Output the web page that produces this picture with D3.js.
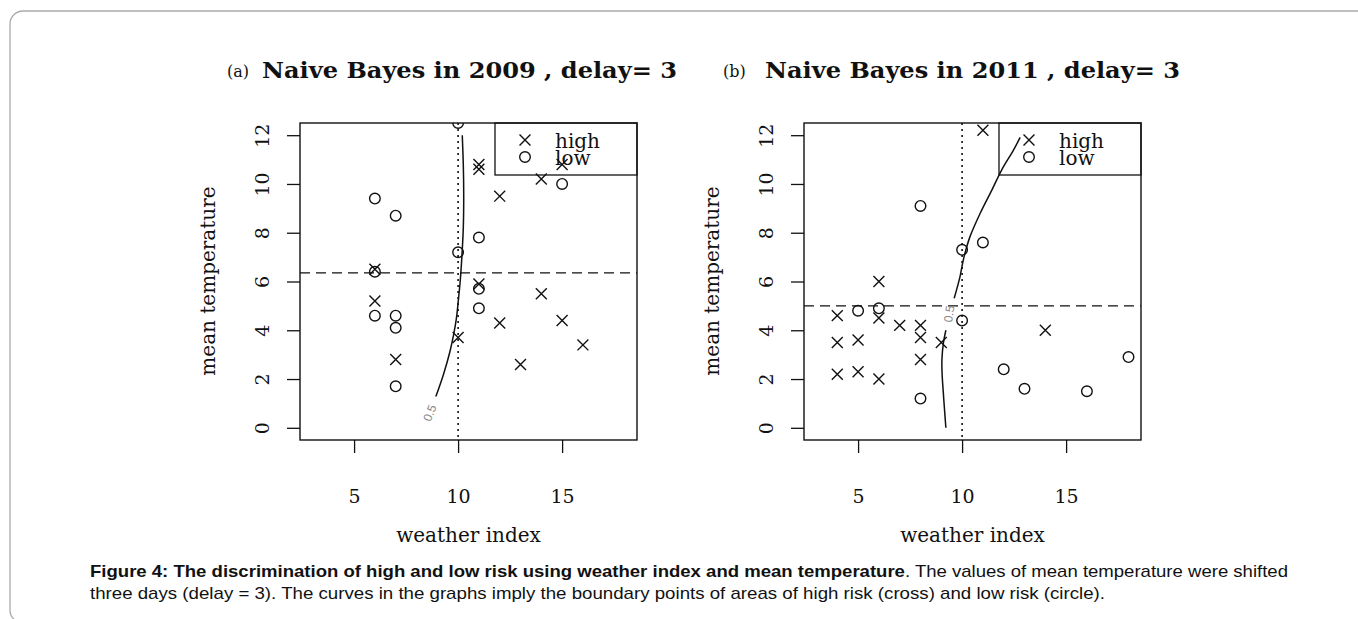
<!DOCTYPE html>
<html>
<head>
<meta charset="utf-8">
<script src="https://cdn.jsdelivr.net/npm/d3@7"></script>
<style>
  body { margin: 0; background: #fff; }
  svg text { fill: #111; }
</style>
</head>
<body>
<svg id="chart" width="1358" height="619"></svg>
<script>
// ---- data ----
const xTicks = [5, 10, 15];
const yTicks = [0, 2, 4, 6, 8, 10, 12];

// panel (a) 2009
const highA = [[11, 10.8], [11, 10.6], [14, 10.2], [15, 10.8], [12, 9.5], [6, 6.5], [6, 5.2], [7, 2.8],
  [10, 3.7], [11, 5.9], [12, 4.3], [14, 5.5], [15, 4.4], [16, 3.4], [13, 2.6]];
const lowA = [[10, 12.5], [15, 10.0], [6, 9.4], [7, 8.7], [11, 7.8], [10, 7.2], [6, 6.4], [6, 4.6],
  [7, 4.6], [7, 4.1], [7, 1.7], [11, 5.7], [11, 4.9]];
const curveA = [[[10.2, 12.0], [10.25, 10.8], [10.27, 9.5], [10.25, 8.2], [10.18, 7.0], [10.1, 6.0],
  [10.02, 5.3], [9.92, 4.5], [9.78, 3.8], [9.6, 3.1], [9.3, 2.2], [8.93, 1.28]]];
const labelA = [8.64, 0.61];
const hLineA = 6.35;

// panel (b) 2011
const highB = [[11, 12.2], [6, 6.0], [6, 4.5], [4, 4.6], [4, 3.5], [5, 3.6], [4, 2.2], [5, 2.3], [6, 2.0],
  [7, 4.2], [8, 4.2], [8, 3.7], [8, 2.8], [9, 3.5], [14, 4.0]];
const lowB = [[8, 9.1], [10, 7.3], [11, 7.6], [6, 4.9], [5, 4.8], [8, 1.2], [10, 4.4], [12, 2.4],
  [13, 1.6], [16, 1.5], [18, 2.9]];
const curveB = [
  [[9.22, 0], [9.15, 0.8], [9.1, 1.4], [9.04, 2.2], [9.03, 2.8], [9.1, 3.47], [9.22, 4.0]],
  [[9.62, 5.31], [9.9, 6.2], [10.0, 6.65], [10.12, 7.1], [10.38, 7.84], [10.87, 8.8], [11.43, 9.75],
    [11.9, 10.57], [12.47, 11.39], [12.79, 11.91]]
];
const labelB = [9.37, 4.67];
const hLineB = 5.0;

const panels = [
  { tag: "(a)", title: "Naive Bayes in 2009 , delay= 3", high: highA, low: lowA, curve: curveA,
    label: labelA, labelAngle: -68, hline: hLineA, left: 300, tagX: 227, titleX: 262 },
  { tag: "(b)", title: "Naive Bayes in 2011 , delay= 3", high: highB, low: lowB, curve: curveB,
    label: labelB, labelAngle: -82, hline: hLineB, left: 804, tagX: 723, titleX: 765 }
];

const serif = "'DejaVu Serif', serif";
const svg = d3.select("#chart");

// outer frame
svg.append("rect")
  .attr("x", 10).attr("y", 11).attr("width", 1400).attr("height", 612)
  .attr("rx", 13).attr("fill", "none").attr("stroke", "#aaa").attr("stroke-width", 1.3);

const plotTop = 123, plotBottom = 440, plotW = 337;

panels.forEach((p, i) => {
  const x = d3.scaleLinear().domain([2.4, 18.6]).range([p.left, p.left + plotW]);
  const y = d3.scaleLinear().domain([-0.5, 12.5]).range([plotBottom, plotTop]);
  const g = svg.append("g");

  // titles
  g.append("text").attr("x", p.tagX).attr("y", 77)
    .attr("font-family", serif).attr("font-size", 16).text(p.tag);
  g.append("text").attr("x", p.titleX).attr("y", 78)
    .attr("font-family", serif).attr("font-size", 23).attr("font-weight", "bold")
    .attr("textLength", 415).attr("lengthAdjust", "spacingAndGlyphs").text(p.title);

  // axes
  const xAxis = g.append("g").attr("transform", `translate(0,${plotBottom})`)
    .call(d3.axisBottom(x).tickValues(xTicks).tickSize(13).tickPadding(37).tickSizeOuter(0));
  const yAxis = g.append("g").attr("transform", `translate(${p.left},0)`)
    .call(d3.axisLeft(y).tickValues(yTicks).tickSize(13).tickPadding(0).tickSizeOuter(0));
  [xAxis, yAxis].forEach(a => {
    a.select(".domain").remove();
    a.selectAll("line").attr("stroke", "#111").attr("stroke-width", 1.3);
    a.selectAll("text").attr("font-family", serif).attr("font-size", 19).attr("fill", "#111");
  });
  // rotate y tick labels like R (las=0)
  yAxis.selectAll(".tick text")
    .attr("x", null).attr("dy", null).attr("y", 0).attr("text-anchor", "middle")
    .attr("transform", "translate(-38,0) rotate(-90) translate(0,7)");

  g.append("text").attr("x", p.left + plotW / 2).attr("y", 542)
    .attr("text-anchor", "middle").attr("font-family", serif).attr("font-size", 20).text("weather index");
  g.append("text").attr("transform", `translate(${p.left - 85},281) rotate(-90)`)
    .attr("text-anchor", "middle").attr("font-family", serif).attr("font-size", 20).text("mean temperature");

  // legend (transparent background, drawn under the marks)
  const lx = p.left + 195;
  const cross = d3.symbol().type(d3.symbolX).size(80);
  const lg = g.append("g");
  lg.append("rect").attr("x", lx).attr("y", plotTop).attr("width", p.left + plotW - lx).attr("height", 52)
    .attr("fill", "none").attr("stroke", "#111").attr("stroke-width", 1.3);
  lg.append("path").attr("d", cross).attr("transform", `translate(${lx + 30},140)`)
    .attr("fill", "none").attr("stroke", "#111").attr("stroke-width", 1.4);
  lg.append("circle").attr("cx", lx + 30).attr("cy", 157).attr("r", 5.3)
    .attr("fill", "none").attr("stroke", "#111").attr("stroke-width", 1.4);
  const lt = lg.append("text").attr("font-family", serif).attr("font-size", 20);
  lt.append("tspan").attr("x", lx + 60).attr("y", 148).text("high");
  lt.append("tspan").attr("x", lx + 60).attr("y", 165).text("low");

  // clip
  svg.append("clipPath").attr("id", "clip" + i).append("rect")
    .attr("x", p.left).attr("y", plotTop).attr("width", plotW).attr("height", plotBottom - plotTop);
  const plot = g.append("g").attr("clip-path", `url(#clip${i})`);

  // reference lines
  plot.append("line").attr("x1", x(10)).attr("x2", x(10)).attr("y1", plotTop).attr("y2", plotBottom)
    .attr("stroke", "#111").attr("stroke-width", 1.6).attr("stroke-dasharray", "2,4");
  plot.append("line").attr("x1", p.left).attr("x2", p.left + plotW).attr("y1", y(p.hline)).attr("y2", y(p.hline))
    .attr("stroke", "#111").attr("stroke-width", 1.3).attr("stroke-dasharray", "10,6");

  // contour 0.5
  const line = d3.line().x(d => x(d[0])).y(d => y(d[1])).curve(d3.curveCatmullRom);
  plot.selectAll(".contour").data(p.curve).enter().append("path")
    .attr("d", line).attr("fill", "none").attr("stroke", "#111").attr("stroke-width", 1.5);
  plot.append("text")
    .attr("transform", `translate(${x(p.label[0])},${y(p.label[1])}) rotate(${p.labelAngle})`)
    .attr("text-anchor", "middle").attr("dy", "0.35em")
    .attr("font-family", "'Liberation Sans', sans-serif").attr("font-size", 12)
    .style("fill", "#888").text("0.5");

  // points
  plot.selectAll(".hi").data(p.high).enter().append("path")
    .attr("d", cross).attr("transform", d => `translate(${x(d[0])},${y(d[1])})`)
    .attr("fill", "none").attr("stroke", "#111").attr("stroke-width", 1.4);
  plot.selectAll(".lo").data(p.low).enter().append("circle")
    .attr("cx", d => x(d[0])).attr("cy", d => y(d[1])).attr("r", 5.3)
    .attr("fill", "none").attr("stroke", "#111").attr("stroke-width", 1.4);

  // plot box
  g.append("rect").attr("x", p.left).attr("y", plotTop).attr("width", plotW).attr("height", plotBottom - plotTop)
    .attr("fill", "none").attr("stroke", "#111").attr("stroke-width", 1.4);
});

// caption
const capFont = "'Liberation Sans', Arial, sans-serif";
const l1 = svg.append("text").attr("x", 90).attr("y", 577).attr("font-family", capFont).attr("font-size", 17)
  .attr("textLength", 1198).attr("lengthAdjust", "spacingAndGlyphs");
l1.append("tspan").attr("font-weight", "bold")
  .text("Figure 4: The discrimination of high and low risk using weather index and mean temperature");
l1.append("tspan").text(". The values of mean temperature were shifted");
svg.append("text").attr("x", 90).attr("y", 599).attr("font-family", capFont).attr("font-size", 17)
  .attr("textLength", 1015).attr("lengthAdjust", "spacingAndGlyphs")
  .text("three days (delay = 3). The curves in the graphs imply the boundary points of areas of high risk (cross) and low risk (circle).");
</script>
</body>
</html>
